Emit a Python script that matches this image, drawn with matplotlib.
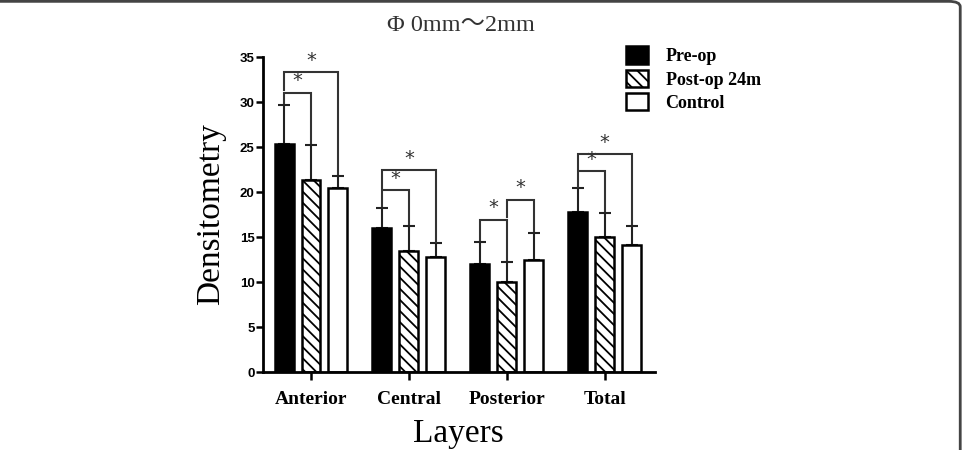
import numpy as np
import matplotlib.pyplot as plt
from matplotlib.patches import FancyBboxPatch

layers = ["Anterior", "Central", "Posterior", "Total"]
groups = ["Pre-op", "Post-op 24m", "Control"]
pre_op = [25.3, 16.0, 12.0, 17.8]
post_op = [21.3, 13.5, 10.0, 15.0]
control = [20.4, 12.8, 12.5, 14.1]
pre_err = [4.4, 2.2, 2.5, 2.6]
post_err = [3.9, 2.7, 2.2, 2.7]
control_err = [1.4, 1.5, 3.0, 2.1]
# significance brackets: (layer, bar a, bar b, bracket height)
sig_pairs = [(0, 0, 1, 31.0), (0, 0, 2, 33.3),
             (1, 0, 1, 20.2), (1, 0, 2, 22.4),
             (2, 0, 1, 16.9), (2, 1, 2, 19.1),
             (3, 0, 1, 22.3), (3, 0, 2, 24.2)]

serif = ["Liberation Serif", "DejaVu Serif"]
plt.rcParams["font.family"] = serif
plt.rcParams["hatch.linewidth"] = 1.3

fig = plt.figure(figsize=(9.67, 4.5), dpi=100)
ax = fig.add_axes([0.272, 0.1733, 0.405, 0.70])

x = np.arange(len(layers))
off = 0.2755
w = 0.194
values = [pre_op, post_op, control]
errs = [pre_err, post_err, control_err]
styles = [dict(color="black", hatch=None),
          dict(color="white", hatch="\\\\\\"),
          dict(color="white", hatch=None)]

for k in range(3):
    xs = x + (k - 1) * off
    ax.bar(xs, values[k], w, color=styles[k]["color"], edgecolor="black",
           linewidth=1.8, hatch=styles[k]["hatch"], label=groups[k], zorder=2)
    ax.errorbar(xs, values[k], yerr=[np.zeros(4), errs[k]], fmt="none",
                ecolor="#222222", elinewidth=1.5, capsize=4.5, capthick=1.5, zorder=1)

tops = np.array([np.array(values[k]) + np.array(errs[k]) for k in range(3)])
for (g, a, b, h) in sig_pairs:
    xa = g + (a - 1) * off
    xb = g + (b - 1) * off
    # left leg stops above whatever is below it
    below_a = tops[a, g] + 0.2
    for (g2, a2, b2, h2) in sig_pairs:
        if g2 == g and h2 < h and (xa >= g2 + (a2 - 1) * off - 1e-6) and (xa <= g2 + (b2 - 1) * off + 1e-6):
            below_a = max(below_a, h2 + 0.3)
    below_b = tops[b, g] + 0.2
    ax.plot([xa, xa, xb, xb], [below_a, h, h, below_b], color="#333333",
            lw=1.5, solid_joinstyle="miter", zorder=3, clip_on=False)
    ax.text((xa + xb) / 2, h + 0.3, "*", ha="center", va="bottom",
            fontsize=14, color="#333333", family=["DejaVu Sans"])

ax.set_xlim(-0.49, 3.51)
ax.set_ylim(0, 35)
ax.set_yticks(np.arange(0, 36, 5))
ax.set_xticks(x)
ax.set_xticklabels(layers, fontsize=14, fontweight="bold")
for lab in ax.get_yticklabels():
    lab.set_fontfamily(["Liberation Sans Narrow", "Liberation Sans"])
    lab.set_fontweight("bold")
    lab.set_fontsize(9.5)
ax.tick_params(axis="y", length=5, width=1.8, pad=1)
ax.tick_params(axis="x", length=6, width=1.8, direction="out", pad=8)
ax.spines["top"].set_visible(False)
ax.spines["right"].set_visible(False)
ax.spines["left"].set_linewidth(2)
ax.spines["bottom"].set_linewidth(2)

ax.set_ylabel("Densitometry", fontsize=24, labelpad=10)
ax.set_xlabel("Layers", fontsize=24, labelpad=7)

fig.text(0.477, 0.944, "Φ 0mm～2mm", ha="center", va="center", fontsize=17.5,
         family=["Liberation Serif", "Noto Sans CJK SC"], color="#333333")

leg = ax.legend(loc="upper left", bbox_to_anchor=(0.885, 1.085), frameon=False,
                prop=dict(family=serif, weight="bold", size=13),
                handlelength=1.2, handleheight=1.1, handletextpad=1.0,
                labelspacing=0.25)

border = FancyBboxPatch((-0.05, -0.05), 1.043, 1.047, transform=fig.transFigure,
                        boxstyle="round,pad=0,rounding_size=0.012",
                        facecolor="none", edgecolor="#444444", linewidth=2,
                        clip_on=False)
fig.patches.append(border)

fig.savefig("out.png", dpi=100)
